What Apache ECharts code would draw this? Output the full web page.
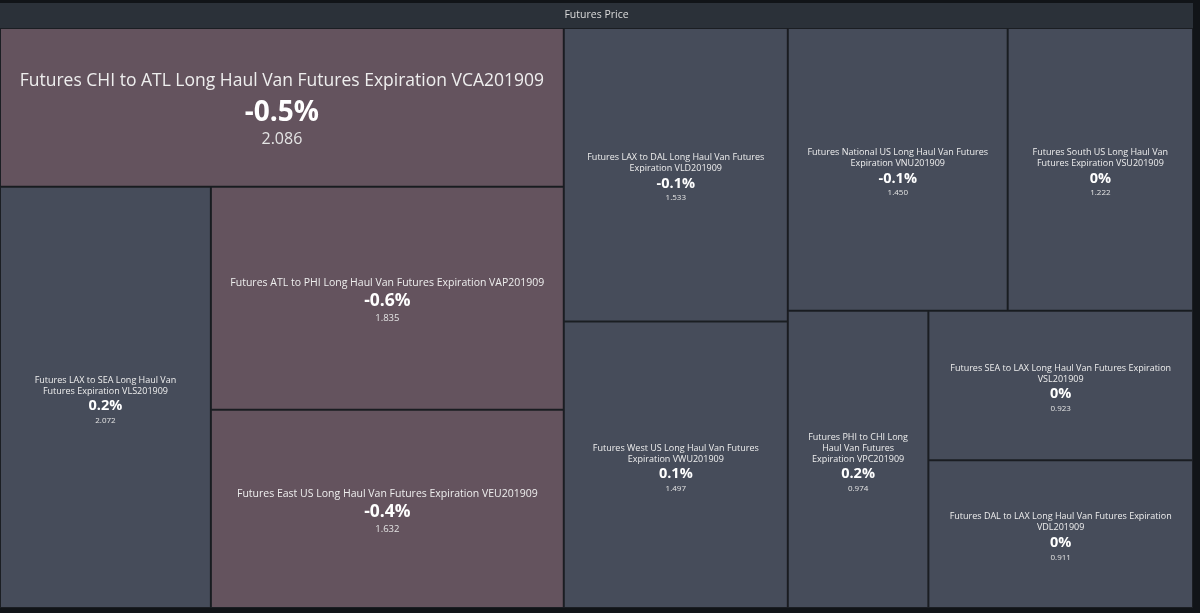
<!DOCTYPE html>
<html lang="en">
<head>
    <meta charset="UTF-8">
    <title>Futures Price</title>
    <script src="https://cdn.jsdelivr.net/npm/echarts@6/dist/echarts.min.js"></script>
    <style>
        html, body {margin: 0; padding: 0; background: #111418;}
    </style>
</head>
<body>
<div class="container" style="width: 1200px;height:613px;"></div>
<script>
    // futures contracts, last price and daily change (%)
    let names = [
        'Futures CHI to ATL Long Haul Van Futures Expiration VCA201909',
        'Futures LAX to SEA Long Haul Van Futures Expiration VLS201909',
        'Futures ATL to PHI Long Haul Van Futures Expiration VAP201909',
        'Futures East US Long Haul Van Futures Expiration VEU201909',
        'Futures LAX to DAL Long Haul Van Futures Expiration VLD201909',
        'Futures West US Long Haul Van Futures Expiration VWU201909',
        'Futures National US Long Haul Van Futures Expiration VNU201909',
        'Futures South US Long Haul Van Futures Expiration VSU201909',
        'Futures PHI to CHI Long Haul Van Futures Expiration VPC201909',
        'Futures SEA to LAX Long Haul Van Futures Expiration VSL201909',
        'Futures DAL to LAX Long Haul Van Futures Expiration VDL201909'
    ];
    let prices = [2.086, 2.072, 1.835, 1.632, 1.533, 1.497, 1.450, 1.222, 0.974, 0.923, 0.911];
    let changes = [-0.5, 0.2, -0.6, -0.4, -0.1, 0.1, -0.1, 0, 0.2, 0, 0];

    // how the tiles are grouped (indices into the arrays above)
    let groups = [[0, [1, [2, 3]]], [4, 5], [[6, 7], [8, [9, 10]]]];

    // label text per tile: [name size, change size, price size, wrap width], [line heights]
    let big = [17.5, 28, 16, 560];
    let bigLines = [26, 38, 14];
    let mid = [10.5, 17.5, 9.5, 340];
    let small = [9, 14.5, 8];
    let wraps = {1: 150, 4: 184, 5: 184, 6: 184, 7: 150, 8: 112, 9: 232, 10: 232};

    let font = '"Open Sans", "Noto Sans", sans-serif';
    let measure = document.createElement('canvas').getContext('2d');

    function wrapText(text, size, maxWidth) {
        measure.font = size + 'px "Open Sans"';
        let words = text.split(' ');
        let lines = [];
        let line = '';
        words.forEach(w => {
            let test = line ? line + ' ' + w : w;
            if (line && measure.measureText(test).width > maxWidth) {
                lines.push(line);
                line = w;
            } else {
                line = test;
            }
        });
        lines.push(line);
        return lines;
    }

    function sizesOf(i) {
        return i === 0 ? big : (i === 2 || i === 3) ? mid : small.concat([wraps[i]]);
    }

    function lineHeights(i) {
        if (i === 0) return bigLines;
        let s = sizesOf(i);
        return [Math.round(s[0] * 1.25), Math.round(s[1] * 1.3), Math.round(s[2] * 1.3)];
    }

    function textHeight(i) {
        let s = sizesOf(i);
        let lh = lineHeights(i);
        return wrapText(names[i], s[0], s[3]).length * lh[0] + lh[1] + lh[2];
    }

    function leaf(i, pads) {
        let s = sizesOf(i);
        let lh = lineHeights(i);
        let lines = wrapText(names[i], s[0], s[3]);
        let text = lines.map(l => '{n|' + l + '}').join('\n') +
            '\n{p|' + changes[i] + '%}\n{v|' + prices[i].toFixed(3) + '}';
        return {
            name: names[i],
            value: prices[i],
            itemStyle: {
                // only the larger drops are tinted
                color: changes[i] < -0.25 ? '#64535e' : '#464c5a',
                borderColor: '#1b1e23',
                borderWidth: 1
            },
            label: {
                show: true,
                position: ['50%', '50%'],
                align: 'center',
                verticalAlign: 'middle',
                overflow: 'none',
                padding: [pads[i] || 0, 0, 0, 0],
                formatter: text,
                rich: {
                    n: {fontSize: s[0], color: '#eeeeee', fontFamily: font, lineHeight: lh[0], align: 'center'},
                    p: {fontSize: s[1], fontWeight: 'bold', color: '#ffffff', fontFamily: font, lineHeight: lh[1], align: 'center'},
                    v: {fontSize: s[2], color: '#e4e4e4', fontFamily: font, lineHeight: lh[2], align: 'center'}
                }
            }
        };
    }

    function build(g, pads) {
        if (typeof g === 'number') return leaf(g, pads);
        let kids = g.map(k => build(k, pads));
        return {
            name: '',
            value: kids.reduce((a, k) => a + k.value, 0),
            itemStyle: {borderWidth: 0, gapWidth: 0, borderColor: '#1b1e23', color: '#1b1e23'},
            upperLabel: {show: false},
            label: {show: false},
            children: kids
        };
    }

    function makeOption(pads) {
        let blocks = groups.map(g => build(g, pads));
        return {
            backgroundColor: '#111418',
            series: [{
                type: 'treemap',
                left: 0,
                top: 3,
                right: 7,
                bottom: 5,
                roam: false,
                nodeClick: false,
                sort: false,
                squareRatio: 1,
                visibleMin: 0,
                breadcrumb: {show: false},
                label: {show: false},
                upperLabel: {show: false},
                data: [{
                    name: 'Futures Price',
                    value: blocks.reduce((a, k) => a + k.value, 0),
                    itemStyle: {borderWidth: 0, gapWidth: 0, borderColor: '#2b3139', color: '#2b3139'},
                    upperLabel: {
                        show: true,
                        height: 25,
                        position: ['50%', '50%'],
                        color: '#dcdcdc',
                        fontSize: 10.5,
                        fontFamily: font,
                        align: 'center',
                        verticalAlign: 'middle'
                    },
                    children: blocks
                }]
            }]
        };
    }

    let container = document.querySelector('.container');
    let mycharts = echarts.init(container);
    mycharts.setOption(makeOption({}));

    // rich labels start at the top of the tile, so push them down to the middle
    // using the tile sizes worked out by the treemap layout
    let pads = {};
    let tree = mycharts.getModel().getSeriesByIndex(0).getData().tree;
    tree.eachNode(node => {
        let i = names.indexOf(node.name);
        let layout = node.getLayout();
        if (i < 0 || !layout) return;
        let inner = layout.height - 2 * (layout.borderWidth || 0);
        let nudge = i === 0 ? 0 : 3;
        pads[i] = Math.max(0, Math.round((inner - textHeight(i)) / 2) + nudge);
    });
    mycharts.setOption(makeOption(pads), true);
</script>
</body>
</html>
